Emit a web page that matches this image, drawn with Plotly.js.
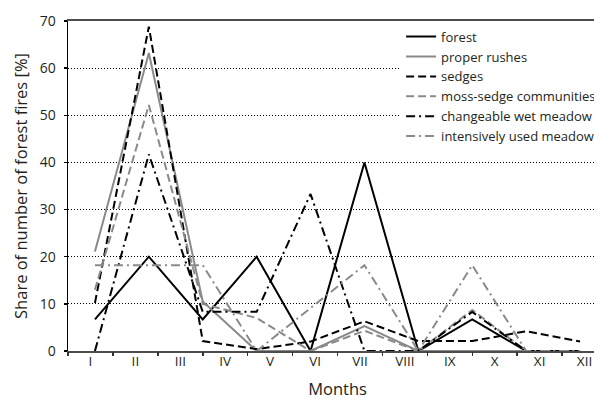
<!DOCTYPE html>
<html>
<head>
<meta charset="utf-8">
<script src="https://cdn.plot.ly/plotly-3.0.1.min.js"></script>
<style>
html,body{margin:0;padding:0;overflow:hidden;background:#fff;}
#chart{width:620px;height:400px;}
</style>
</head>
<body>
<div id="chart"></div>
<script>
// Month tick labels on the axis
var months = ['I','II','III','IV','V','VI','VII','VIII','IX','X','XI','XII'];
// Data point sequence (10 points per series, as drawn in the source chart)
var points = [1,2,3,4,5,6,7,8,9,10];
// Series values (share of number of forest fires, %)
var forest       = [6.7, 20, 6.7, 20, 0, 40, 0, 6.7, 0, 0];
var properRushes = [21.1, 63.2, 10.5, 0, 0, 5.3, 0, 0, 0, 0];
var sedges       = [10.2, 68.8, 2.1, 0.4, 2.0, 6.3, 2.1, 2.1, 4.2, 2.0];
var mossSedge    = [13.0, 52.2, 10.0, 7.0, 0, 4.3, 0, 8.7, 0, 0];
var changeable   = [0, 41.7, 8.3, 8.3, 33.3, 0, 0, 8.3, 0, 0];
var intensive    = [18.2, 18.2, 18.2, 0, 9.1, 18.2, 0, 18.2, 0, 0];
var seriesNames = ['forest','proper rushes','sedges','moss-sedge communities','changeable wet meadow','intensively used meadow'];

var BLACK = '#000000', GRAY = '#8a8a8a';
var DASH = '8px,4px', DASHDOT = '9px,4px,2px,4px';
var styles = [
  {color: BLACK, dash: 'solid'},
  {color: GRAY, dash: 'solid'},
  {color: BLACK, dash: DASH},
  {color: GRAY, dash: DASH},
  {color: BLACK, dash: DASHDOT},
  {color: GRAY, dash: DASHDOT}
];
var allSeries = [forest, properRushes, sedges, mossSedge, changeable, intensive];

var traces = allSeries.map(function(vals, i){
  return {
    x: points, y: vals, name: seriesNames[i], type: 'scatter', mode: 'lines',
    line: {color: styles[i].color, dash: styles[i].dash, width: 2},
    xaxis: 'x', yaxis: 'y', hoverinfo: 'skip'
  };
});
// invisible helper trace to activate the month category axis
traces.push({x: months, y: months.map(function(){return null;}), xaxis: 'x2', yaxis: 'y',
  type: 'scatter', mode: 'lines', showlegend: false, hoverinfo: 'skip'});

var FONT = 'Open Sans, Noto Sans, sans-serif';
var layout = {
  width: 620, height: 400,
  margin: {l: 68, r: 13, t: 21, b: 49, pad: 0},
  paper_bgcolor: '#fff', plot_bgcolor: '#fff',
  font: {family: FONT, color: '#231f20', size: 13},
  showlegend: true,
  legend: {x: 0.618, y: 0.998, xanchor: 'left', yanchor: 'top', bgcolor: '#fff',
    borderwidth: 0, font: {family: FONT, size: 13, color: '#231f20'}},
  xaxis: {
    type: 'linear', range: [0.5, 10.5], showgrid: false, zeroline: false,
    showline: true, linecolor: '#4d4d4d', linewidth: 2, mirror: true,
    showticklabels: false, ticks: '', fixedrange: true
  },
  xaxis2: {
    type: 'category', overlaying: 'x', anchor: 'y', side: 'bottom',
    categoryorder: 'array', categoryarray: months,
    range: [-0.5, 11.5], tickson: 'boundaries', ticks: 'outside', ticklen: 4,
    tickwidth: 1.5, tickcolor: '#333', showgrid: false, showline: false, zeroline: false,
    tickfont: {family: FONT, size: 13.5, color: '#231f20'}, fixedrange: true,
    title: {text: 'Months', font: {family: FONT, size: 16.5, color: '#231f20'}, standoff: 17}
  },
  yaxis: {
    range: [0, 70], tickvals: [0,10,20,30,40,50,60,70], ticks: 'outside', ticklen: 3,
    tickwidth: 1.5, tickcolor: '#000', showline: true, linecolor: '#000', linewidth: 1.5,
    showgrid: true, gridcolor: '#000', gridwidth: 1, griddash: '1px,2px', zeroline: false,
    ticklabelstandoff: 5,
    tickfont: {family: FONT, size: 14, color: '#231f20'}, fixedrange: true,
    title: {text: 'Share of number of forest fires [%]', font: {family: FONT, size: 16.5, color: '#231f20'}, standoff: 8}
  }
};

Plotly.newPlot('chart', traces, layout, {displayModeBar: false, staticPlot: true});
</script>
</body>
</html>
